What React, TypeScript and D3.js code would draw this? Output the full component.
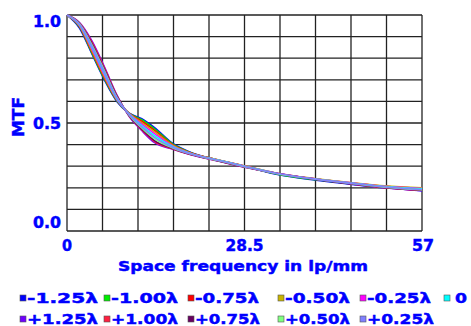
import React, { useEffect, useRef } from 'react';
import * as d3 from 'd3';

// spatial frequency samples (lp/mm)
const freqs = [0, 2, 4, 6, 8, 10, 12, 14, 17, 20, 24, 28.5, 34, 40, 46, 51, 57];

// MTF per defocus
const m125 = [1, 0.94, 0.82, 0.70, 0.60, 0.545, 0.52, 0.48, 0.405, 0.362, 0.33, 0.30, 0.26, 0.235, 0.215, 0.2, 0.187];
const m100 = [1, 0.945, 0.825, 0.705, 0.603, 0.545, 0.515, 0.474, 0.402, 0.361, 0.33, 0.30, 0.262, 0.237, 0.217, 0.202, 0.19];
const m075 = [1, 0.948, 0.83, 0.71, 0.606, 0.544, 0.508, 0.467, 0.399, 0.36, 0.331, 0.301, 0.265, 0.24, 0.221, 0.207, 0.197];
const m050 = [1, 0.95, 0.835, 0.715, 0.608, 0.543, 0.502, 0.46, 0.396, 0.359, 0.331, 0.302, 0.266, 0.242, 0.223, 0.209, 0.2];
const m025 = [1, 0.952, 0.842, 0.722, 0.61, 0.542, 0.495, 0.452, 0.393, 0.358, 0.33, 0.301, 0.266, 0.241, 0.222, 0.207, 0.197];
const zero = [1, 0.955, 0.85, 0.73, 0.613, 0.54, 0.488, 0.443, 0.39, 0.357, 0.33, 0.30, 0.265, 0.24, 0.221, 0.206, 0.195];
const p025 = [1, 0.957, 0.856, 0.737, 0.617, 0.538, 0.482, 0.435, 0.387, 0.356, 0.329, 0.299, 0.265, 0.24, 0.22, 0.204, 0.192];
const p050 = [1, 0.959, 0.862, 0.743, 0.62, 0.536, 0.477, 0.428, 0.384, 0.355, 0.328, 0.298, 0.264, 0.24, 0.219, 0.203, 0.191];
const p075 = [1, 0.961, 0.868, 0.749, 0.624, 0.534, 0.473, 0.42, 0.382, 0.354, 0.327, 0.297, 0.264, 0.239, 0.218, 0.202, 0.19];
const p100 = [1, 0.963, 0.874, 0.755, 0.627, 0.532, 0.469, 0.415, 0.38, 0.353, 0.326, 0.296, 0.265, 0.24, 0.218, 0.201, 0.189];
const p125 = [1, 0.965, 0.88, 0.76, 0.63, 0.53, 0.465, 0.41, 0.378, 0.352, 0.325, 0.295, 0.265, 0.24, 0.216, 0.2, 0.186];

const labels = ['-1.25λ', '-1.00λ', '-0.75λ', '-0.50λ', '-0.25λ', '0',
  '+1.25λ', '+1.00λ', '+0.75λ', '+0.50λ', '+0.25λ'];
const values = [m125, m100, m075, m050, m025, zero, p125, p100, p075, p050, p025];
const colors = ['#0000ff', '#00ee00', '#ff0000', '#c8b400', '#ff00ff', '#00ffff',
  '#7000ff', '#ff2040', '#680060', '#80ff80', '#8080ff'];

const xTicks = [0, 28.5, 57];
const yTicks = [0, 0.5, 1];

const W = 471, H = 326;
const FONT = '"DejaVu Sans", Verdana, sans-serif';
const BLUE = '#0000ff';

export default function App() {
  const ref = useRef<SVGSVGElement>(null);

  useEffect(() => {
    const svg = d3.select(ref.current);
    svg.selectAll('*').remove();

    const left = 67, right = 422, top = 15, bottom = 231;
    const x = d3.scaleLinear().domain([0, 57]).range([left, right]);
    const y = d3.scaleLinear().domain([0, 1]).range([bottom, top]);

    svg.append('rect').attr('width', W).attr('height', H).attr('fill', '#fff');

    // bold blue text helper
    const txt = (sel: any, size: number) => sel
      .attr('font-family', FONT).attr('font-weight', 'bold').attr('font-size', size)
      .attr('fill', BLUE).attr('stroke', BLUE).attr('stroke-width', 0.45)
      .attr('lengthAdjust', 'spacingAndGlyphs');

    // grid 10 x 10
    const g = svg.append('g');
    d3.range(11).forEach(i => {
      g.append('line')
        .attr('x1', x(57 * i / 10)).attr('x2', x(57 * i / 10))
        .attr('y1', top).attr('y2', bottom)
        .attr('stroke', '#222').attr('stroke-width', 1.3);
      g.append('line')
        .attr('x1', left).attr('x2', right)
        .attr('y1', y(i / 10)).attr('y2', y(i / 10))
        .attr('stroke', '#222').attr('stroke-width', 1.3);
    });

    // curves
    const line = d3.line<number>()
      .x((d, i) => x(freqs[i]))
      .y(d => y(d))
      .curve(d3.curveMonotoneX);

    values.forEach((v, i) => {
      svg.append('path')
        .attr('d', line(v))
        .attr('fill', 'none')
        .attr('stroke', colors[i])
        .attr('stroke-width', 1.6);
    });

    // y tick labels
    const yOff: Record<number, number> = { 1: 6, 0.5: 0, 0: -9 };
    txt(svg.selectAll('.ytick').data(yTicks).join('text'), 15)
      .attr('x', 61).attr('y', d => y(d) + yOff[d] + 5.5)
      .attr('text-anchor', 'end')
      .attr('textLength', 28)
      .text(d => d.toFixed(1));

    // x tick labels
    const xLen: Record<number, number> = { 0: 10, 28.5: 38, 57: 22 };
    txt(svg.selectAll('.xtick').data(xTicks).join('text'), 15)
      .attr('x', d => x(d) + (d === 57 ? 1 : 0)).attr('y', 251)
      .attr('text-anchor', 'middle')
      .attr('textLength', d => xLen[d])
      .text(d => String(d));

    txt(svg.append('text'), 14.5)
      .attr('x', 243).attr('y', 270.5)
      .attr('text-anchor', 'middle')
      .attr('textLength', 250)
      .text('Space frequency in lp/mm');

    txt(svg.append('text'), 16)
      .attr('transform', 'translate(24,117) rotate(-90)')
      .attr('text-anchor', 'middle')
      .attr('textLength', 40)
      .text('MTF');

    // legend
    const cols = [20, 104, 188, 278, 360, 444];
    const lens = [71, 67, 64, 65, 64, 12, 71, 67, 65, 65, 67];
    labels.forEach((lab, i) => {
      const row = i < 6 ? 0 : 1;
      const col = i < 6 ? i : i - 6;
      const cx = cols[col];
      const base = row === 0 ? 302.5 : 323.5;
      svg.append('rect')
        .attr('x', cx).attr('y', base - 7.5)
        .attr('width', 6).attr('height', 6)
        .attr('fill', colors[i]).attr('stroke', '#555').attr('stroke-width', 0.6);
      txt(svg.append('text'), 14)
        .attr('x', lab === '0' ? cx + 11 : cx + 7).attr('y', base)
        .attr('textLength', lens[i])
        .text(lab);
    });
  }, []);

  return (
    <svg ref={ref} width={W} height={H}
      style={{ position: 'absolute', left: 0, top: 0 }} />
  );
}
